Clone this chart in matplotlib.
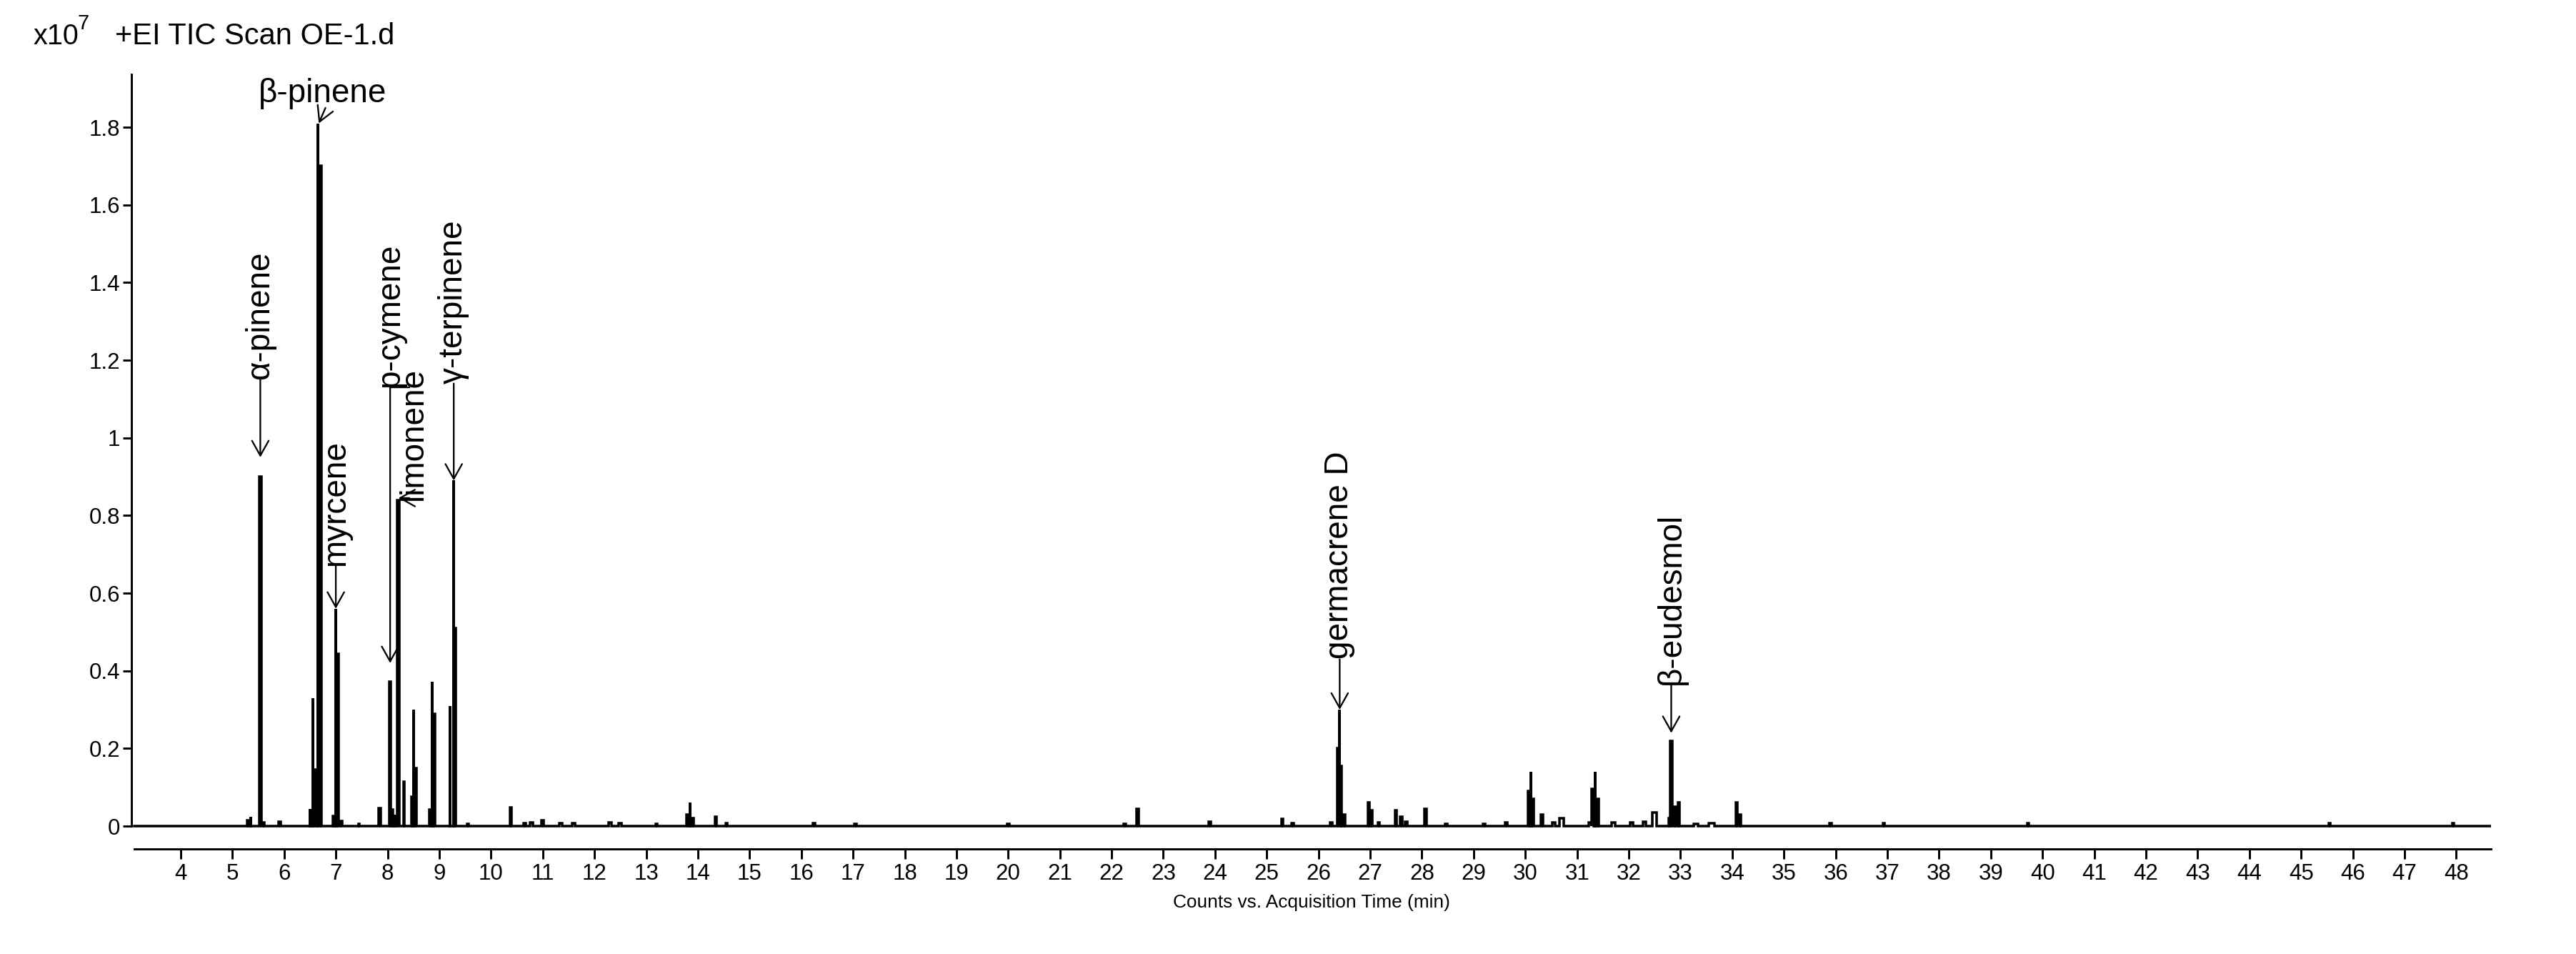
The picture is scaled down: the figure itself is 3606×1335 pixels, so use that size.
import matplotlib
matplotlib.use("Agg")
import matplotlib.pyplot as plt
import numpy as np

# peak table: retention time (min), height (x10^7), bar width (min)
peak_t = [5.30, 5.36, 5.54, 5.60, 5.92, 6.50, 6.55, 6.60, 6.66, 6.71,
          6.95, 7.00, 7.04, 7.10, 7.45, 7.85, 8.05, 8.10, 8.15, 8.21,
          8.32, 8.47, 8.50, 8.54, 8.82, 8.86, 8.90, 9.21, 9.28, 9.30,
          9.55, 10.38, 10.65, 10.78, 11.00, 11.35, 11.60, 12.30, 12.50, 13.20,
          13.80, 13.85, 13.90, 14.35, 14.55, 16.25, 17.05, 20.00, 22.25, 22.50,
          23.90, 25.30, 25.50, 26.25, 26.38, 26.41, 26.44, 26.50, 26.97, 27.03,
          27.17, 27.50, 27.60, 27.70, 28.07, 28.47, 29.20, 29.63, 30.06, 30.10,
          30.14, 30.32, 30.55, 30.70, 31.25, 31.30, 31.35, 31.40, 31.70, 32.05,
          32.30, 32.50, 32.78, 32.82, 32.90, 32.97, 33.30, 33.60, 34.08, 34.15,
          35.90, 36.93, 39.72, 45.55, 47.94]
peak_h = [0.015, 0.025, 0.90, 0.010, 0.012, 0.045, 0.33, 0.146, 1.81, 1.70,
          0.026, 0.56, 0.443, 0.013, 0.006, 0.047, 0.372, 0.043, 0.030, 0.84,
          0.114, 0.075, 0.30, 0.15, 0.043, 0.372, 0.29, 0.31, 0.89, 0.51,
          0.005, 0.048, 0.008, 0.010, 0.015, 0.008, 0.008, 0.010, 0.008, 0.005,
          0.030, 0.060, 0.020, 0.025, 0.008, 0.007, 0.005, 0.005, 0.006, 0.045,
          0.012, 0.018, 0.008, 0.010, 0.20, 0.30, 0.155, 0.030, 0.060, 0.040,
          0.010, 0.040, 0.025, 0.012, 0.045, 0.005, 0.005, 0.010, 0.090, 0.14,
          0.070, 0.030, 0.010, 0.020, 0.010, 0.095, 0.14, 0.070, 0.010, 0.010,
          0.012, 0.035, 0.020, 0.22, 0.050, 0.060, 0.006, 0.008, 0.060, 0.030,
          0.008, 0.007, 0.007, 0.007, 0.008]
peak_w = [0.04, 0, 0.04, 0.03, 0.04, 0, 0, 0.04, 0, 0.03,
          0.02, 0, 0.03, 0.04, 0.02, 0.04, 0.03, 0.02, 0, 0.04,
          0.02, 0.02, 0, 0.03, 0.02, 0, 0.03, 0, 0, 0.03,
          0.03, 0.03, 0.05, 0.05, 0.04, 0.05, 0.05, 0.05, 0.05, 0.03,
          0.03, 0, 0.03, 0.03, 0.03, 0.04, 0.04, 0.04, 0.04, 0.04,
          0.04, 0.04, 0.04, 0.04, 0.04, 0, 0.02, 0.03, 0.03, 0.03,
          0.03, 0.03, 0.04, 0.04, 0.04, 0.03, 0.04, 0.05, 0.03, 0,
          0.03, 0.05, 0.05, 0.08, 0.05, 0.03, 0, 0.03, 0.06, 0.06,
          0.06, 0.08, 0.02, 0.03, 0.03, 0.03, 0.08, 0.10, 0.03, 0.03,
          0.05, 0.03, 0.03, 0.03, 0.03]

# labelled compounds: name, time, bottom of label, arrow tip
names = ["α-pinene", "myrcene", "p-cymene", "γ-terpinene", "germacrene D", "β-eudesmol"]
name_t = [5.54, 7.00, 8.05, 9.28, 26.41, 32.82]
name_bottom = [1.15, 0.67, 1.13, 1.14, 0.43, 0.365]
name_tip = [0.95, 0.56, 0.42, 0.89, 0.30, 0.24]

t_start, t_end = 3.1, 48.67
y_ticks = [0, 0.2, 0.4, 0.6, 0.8, 1.0, 1.2, 1.4, 1.6, 1.8]
x_ticks = list(range(4, 49))

# build the trace as a polyline of narrow bars
xs, ys = [t_start], [0.0]
for t, h, w in sorted(zip(peak_t, peak_h, peak_w)):
    if w == 0:
        xs += [t, t, t]
        ys += [0, h, 0]
    else:
        xs += [t - w / 2, t - w / 2, t + w / 2, t + w / 2]
        ys += [0, h, h, 0]
xs.append(t_end)
ys.append(0.0)

sans = ['Liberation Sans', 'DejaVu Sans']

fig = plt.figure(figsize=(12.02, 4.45), dpi=300)
ax = fig.add_axes([0.051, 0.110, 0.916, 0.812])
ax.plot(xs, ys, color='black', lw=0.85, solid_joinstyle='miter')

ax.set_xlim(3.047, 48.67)
ax.set_ylim(-0.059, 1.936)
for s in ['top', 'right']:
    ax.spines[s].set_visible(False)
ax.spines['left'].set_bounds(0, 1.936)
ax.spines['bottom'].set_bounds(t_start, t_end)
ax.spines['left'].set_linewidth(0.7)
ax.spines['bottom'].set_linewidth(0.7)

ax.set_yticks(y_ticks)
ax.set_yticklabels(['%g' % v for v in y_ticks], family=sans, fontsize=7.5)
ax.set_xticks(x_ticks)
ax.set_xticklabels([str(v) for v in x_ticks], family=sans, fontsize=7.5)
ax.tick_params(axis='y', length=2.8, width=0.7, pad=1)
ax.tick_params(axis='x', length=3.3, width=0.7, pad=1.5)

ax.set_xlabel('Counts vs. Acquisition Time (min)', family=sans, fontsize=6.3, labelpad=3)

arrow = dict(arrowstyle='->,head_length=0.5,head_width=0.28', lw=0.55, color='black',
             shrinkA=0, shrinkB=0)
for name, t, yb, tip in zip(names, name_t, name_bottom, name_tip):
    ax.text(t, yb, name, rotation=90, ha='center', va='bottom', family=sans, fontsize=11)
    ax.annotate('', xy=(t, tip), xytext=(t, yb), arrowprops=arrow)

# p-cymene and limonene share a corner of the plot
ax.text(8.50, 0.84, 'limonene', rotation=90, ha='center', va='bottom', family=sans, fontsize=11)
ax.annotate('', xy=(8.21, 0.845), xytext=(8.42, 0.845), arrowprops=arrow)
ax.plot([8.05, 8.42], [1.13, 1.13], color='black', lw=0.55)

ax.text(6.74, 1.886, 'β-pinene', ha='center', va='center', family=sans, fontsize=11)
ax.annotate('', xy=(6.67, 1.81), xytext=(6.80, 1.85), arrowprops=arrow)

fig.text(0.0128, 0.962, 'x10', family=sans, fontsize=9.5, va='center')
fig.text(0.0300, 0.975, '7', family=sans, fontsize=7, va='center')
fig.text(0.0446, 0.962, '+EI TIC Scan OE-1.d', family=sans, fontsize=10, va='center')

fig.savefig('out.png', dpi=300, facecolor='white')
